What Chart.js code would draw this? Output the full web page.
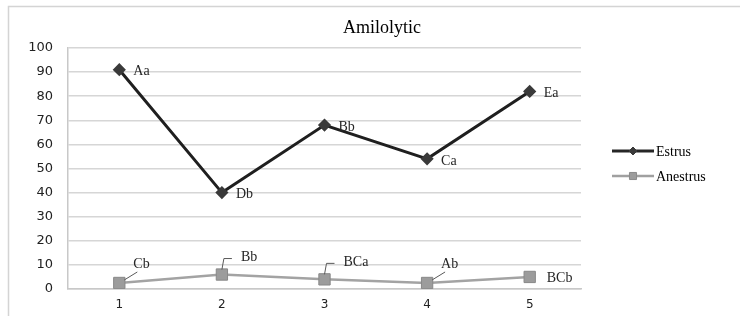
<!DOCTYPE html>
<html lang="en">
<head>
    <meta charset="UTF-8">
    <title>Amilolytic</title>
    <script src="https://cdn.jsdelivr.net/npm/chart.js"></script>
    <style>
        body {
            margin: 0;
            padding: 0;
            background-color: #ffffff;
        }
        .box {
            width: 740px;
            height: 316px;
        }
    </style>
</head>
<body>
    <div class="box">
        <canvas id="amiChart" width="740" height="316"></canvas>
    </div>

    <script>
        // data
        const categories = ['1', '2', '3', '4', '5'];
        const estrus = [91, 40, 68, 54, 82];
        const anestrus = [2.5, 6, 4, 2.5, 5];
        const estrusLabels = ['Aa', 'Db', 'Bb', 'Ca', 'Ea'];
        const anestrusLabels = ['Cb', 'Bb', 'BCa', 'Ab', 'BCb'];
        const yTicks = [0, 10, 20, 30, 40, 50, 60, 70, 80, 90, 100];

        const serif = '"Liberation Serif", "Times New Roman", serif';
        const sans = '"DejaVu Sans", Verdana, sans-serif';

        // frame, title, point labels and legend
        const extras = {
            id: 'extras',
            beforeDraw(chart) {
                const ctx = chart.ctx;
                ctx.save();
                ctx.strokeStyle = '#d4d4d4';
                ctx.lineWidth = 1.5;
                ctx.beginPath();
                ctx.moveTo(740, 6.5);
                ctx.lineTo(8.5, 6.5);
                ctx.lineTo(8.5, 316);
                ctx.stroke();
                ctx.restore();
            },
            afterDatasetsDraw(chart) {
                const ctx = chart.ctx;
                ctx.save();

                // title
                ctx.fillStyle = '#000000';
                ctx.font = '18px ' + serif;
                ctx.textAlign = 'center';
                ctx.textBaseline = 'middle';
                ctx.fillText('Amilolytic', 382, 28);

                ctx.font = '14px ' + serif;
                ctx.fillStyle = '#262626';
                ctx.textAlign = 'left';

                // Estrus labels: right of the marker
                const m0 = chart.getDatasetMeta(0);
                m0.data.forEach((p, i) => {
                    ctx.fillText(estrusLabels[i], p.x + 14, p.y + 2);
                });

                // Anestrus labels: above right with leader line, last one to the right
                const m1 = chart.getDatasetMeta(1);
                m1.data.forEach((p, i) => {
                    if (i === 4) {
                        ctx.fillText(anestrusLabels[i], p.x + 17, p.y + 1);
                        return;
                    }
                    ctx.strokeStyle = '#595959';
                    ctx.lineWidth = 1;
                    ctx.beginPath();
                    if (i === 0 || i === 3) {
                        ctx.moveTo(p.x + 5, p.y - 3);
                        ctx.lineTo(p.x + 18, p.y - 11);
                        ctx.stroke();
                        ctx.fillText(anestrusLabels[i], p.x + 14, p.y - 19);
                    } else {
                        ctx.moveTo(p.x, p.y - 5);
                        ctx.lineTo(p.x + 2, p.y - 16);
                        ctx.lineTo(p.x + 10, p.y - 16);
                        ctx.stroke();
                        ctx.fillText(anestrusLabels[i], p.x + 19, p.y - 17);
                    }
                });

                // legend
                const items = [
                    { text: 'Estrus', color: '#262626', mark: '#3a3a3a', width: 3, style: 'rectRot', y: 151 },
                    { text: 'Anestrus', color: '#a0a0a0', mark: '#9c9c9c', width: 2.5, style: 'rect', y: 176 }
                ];
                items.forEach(it => {
                    ctx.strokeStyle = it.color;
                    ctx.lineWidth = it.width;
                    ctx.beginPath();
                    ctx.moveTo(612, it.y);
                    ctx.lineTo(654, it.y);
                    ctx.stroke();
                    ctx.fillStyle = it.mark;
                    ctx.strokeStyle = it.style === 'rect' ? '#8c8c8c' : it.mark;
                    ctx.lineWidth = 1;
                    Chart.helpers.drawPoint(ctx, { pointStyle: it.style, radius: it.style === 'rect' ? 5 : 4, borderWidth: 1 }, 633, it.y);
                    ctx.fillStyle = '#000000';
                    ctx.font = '14px ' + serif;
                    ctx.textAlign = 'left';
                    ctx.fillText(it.text, 656, it.y + 1);
                });

                ctx.restore();
            }
        };

        new Chart(document.getElementById('amiChart'), {
            type: 'line',
            data: {
                labels: categories,
                datasets: [
                    {
                        label: 'Estrus',
                        data: estrus,
                        borderColor: '#1f1f1f',
                        borderWidth: 3,
                        pointStyle: 'rectRot',
                        pointRadius: 4.5,
                        pointBackgroundColor: '#3a3a3a',
                        pointBorderColor: '#3a3a3a',
                        tension: 0
                    },
                    {
                        label: 'Anestrus',
                        data: anestrus,
                        borderColor: '#a3a3a3',
                        borderWidth: 2.5,
                        pointStyle: 'rect',
                        pointRadius: 8,
                        pointBackgroundColor: '#9c9c9c',
                        pointBorderColor: '#888888',
                        pointBorderWidth: 1,
                        tension: 0
                    }
                ]
            },
            options: {
                responsive: false,
                animation: false,
                layout: {
                    padding: { left: 0, right: 159, top: 48, bottom: 0 }
                },
                plugins: {
                    legend: { display: false },
                    tooltip: { enabled: false }
                },
                scales: {
                    x: {
                        offset: true,
                        grid: { display: false, drawTicks: false },
                        border: { color: '#c8c8c8', width: 1.5 },
                        ticks: {
                            padding: 9,
                            color: '#222222',
                            font: { family: sans, size: 12 }
                        },
                        afterFit(scale) { scale.height = 27; }
                    },
                    y: {
                        min: 0,
                        max: 100,
                        afterBuildTicks(scale) {
                            scale.ticks = yTicks.map(v => ({ value: v }));
                        },
                        grid: { color: '#d6d6d6', lineWidth: 1.5, drawTicks: false },
                        border: { color: '#c8c8c8', width: 1.5 },
                        ticks: {
                            padding: 15,
                            color: '#222222',
                            font: { family: sans, size: 13 }
                        },
                        afterFit(scale) { scale.width = 68; }
                    }
                }
            },
            plugins: [extras]
        });
    </script>
</body>
</html>
